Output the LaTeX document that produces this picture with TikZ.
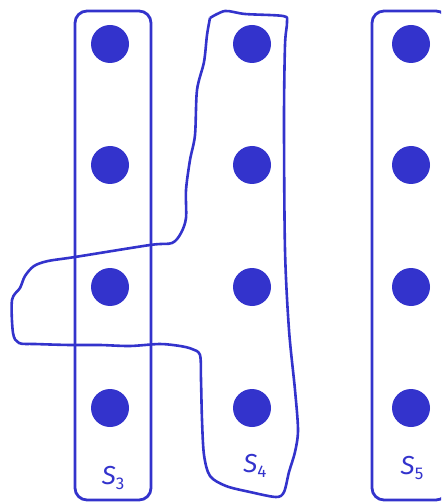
\documentclass[tikz,border=0pt]{standalone}
\usepackage{fontspec}
\setsansfont{Fira Sans}
\usepackage{tikz}
\usetikzlibrary{positioning}
\definecolor{setblue}{RGB}{51,51,204}
\tikzset{
  dot/.style={circle,fill=setblue,inner sep=0pt,minimum size=38pt},
  setbox/.style={draw=setblue,line width=2.8pt,rounded corners=12pt,minimum width=76pt,minimum height=489pt},
  blob/.style={draw=setblue,line width=2.6pt,line join=round},
  lbl/.style={text=setblue,font=\sffamily\fontsize{26}{26}\selectfont,inner sep=0pt},
}
\newcommand{\setname}[1]{\textit{S}\raisebox{-0.4ex}{\fontsize{17}{17}\selectfont #1}}
\begin{document}
\begin{tikzpicture}[x=1pt,y=-1pt]
  \useasboundingbox (0,0) rectangle (441,502);
  \clip (0,0) rectangle (441,502);

  % the three sets
  \node[setbox] (boxa) at (113,255.5) {};
  \node[setbox] (boxc) at (410,255.5) {};

  % hand drawn set S4
  \draw[blob] plot[smooth,tension=0.5] coordinates {
    (210,18) (225,11) (245,14) (283,16) (287,22) (285,45) (284,120)
    (285,250) (289,330) (295,390) (298,430) (295,452) (289,472) (284,492)
    (276,497) (250,492) (226,486) (210,476) (204,455) (202,420) (201,380)
    (200,355) (192,349) (180,346) (160,344) (130,346) (100,345) (70,345)
    (35,344) (19,343) (13,333) (12,300) (20,288) (25,276) (34,266)
    (48,261) (75,257) (150,245) (172,243) (181,233) (186,218) (186,190)
    (190,160) (195,135) (197,90) (204,62) (207,35) (210,18)};

  % dots
  \foreach \col/\xx in {a/110,b/252,c/411}
    \foreach \row/\yy in {1/44,2/165,3/287,4/408}
      \node[dot] (\col\row) at (\xx,\yy) {};

  % labels
  \node[lbl] (la) at (113,478) {\setname{3}};
  \node[lbl] (lb) at (255,466) {\setname{4}};
  \node[lbl] (lc) at (412,468) {\setname{5}};
\end{tikzpicture}
\end{document}
